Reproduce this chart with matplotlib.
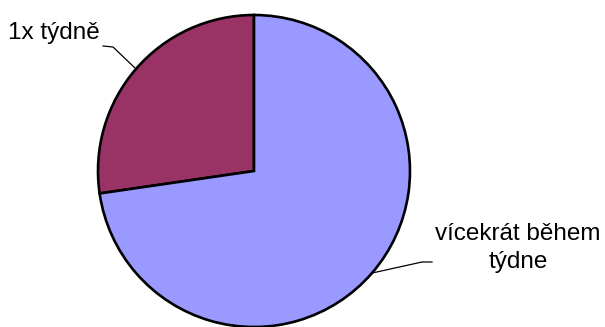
import numpy as np
import matplotlib.pyplot as plt

# data
labels = ['1x týdně', 'vícekrát během\ntýdne']
values = [27.3, 72.7]
colors = ['#993366', '#9999FF']

W, H = 605, 327
fig = plt.figure(figsize=(W / 100, H / 100), dpi=100, facecolor='white')
ax = fig.add_axes([0, 0, 1, 1])

cx, cy, r = 254, H - 171, 156
wedges, _ = ax.pie(values, colors=colors, startangle=90, counterclock=True,
                   center=(cx, cy), radius=r, frame=True,
                   wedgeprops=dict(edgecolor='black', linewidth=1.9))
ax.set_xlim(0, W)
ax.set_ylim(0, H)
ax.set_aspect('equal')
ax.axis('off')

# label positions (pixels from top-left): elbow, end of leader, text anchor
label_layout = [
    dict(elbow=(113, 47), end=(103, 46), text=(54, 33)),
    dict(elbow=(422, 262), end=(432, 262), text=(518, 248)),
]

for w, lab, lay in zip(wedges, labels, label_layout):
    ang = np.deg2rad((w.theta1 + w.theta2) / 2)
    ex, ey = cx + r * np.cos(ang), cy + r * np.sin(ang)
    xs = [ex, lay['elbow'][0], lay['end'][0]]
    ys = [ey, H - lay['elbow'][1], H - lay['end'][1]]
    ax.plot(xs, ys, color='black', lw=0.9)
    ax.text(lay['text'][0], H - lay['text'][1], lab, ha='center', va='center',
            fontsize=17.5, family='Liberation Sans', linespacing=1.3)

fig.savefig('out.png', dpi=100, facecolor='white')
